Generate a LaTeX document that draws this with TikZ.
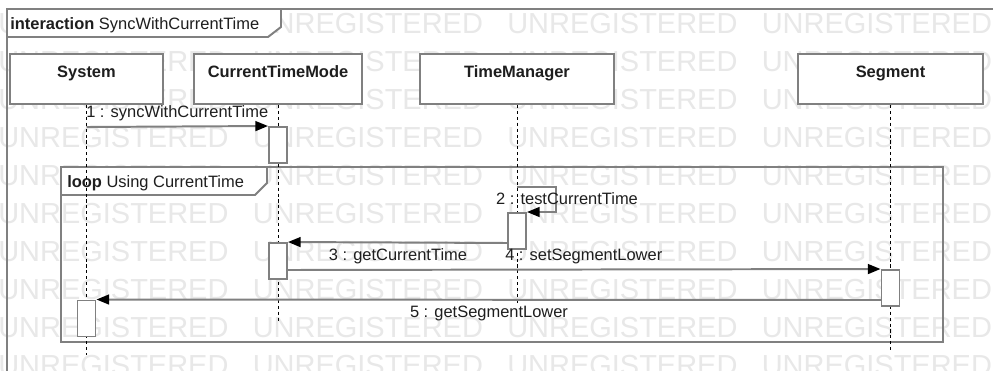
\documentclass[tikz,border=0pt]{standalone}
\usepackage{fontspec}
\setmainfont{Liberation Sans}
\usepackage{xcolor}
\usepackage{tikz}
\usetikzlibrary{
	arrows.meta,
	positioning,
}
\definecolor{umlline}{RGB}{128,128,128}
\definecolor{umltext}{RGB}{30,30,30}
\definecolor{watermark}{RGB}{232,232,232}

\tikzset{
	lifehead/.style={draw=umlline, line width=1.4pt, fill=white, inner sep=0pt, minimum height=1.25cm,
		text height=0.3cm, text depth=0.4cm, text=umltext, font=\fontsize{11.7}{14}\selectfont\bfseries},
	lifeline/.style={draw=black, line width=0.7pt, dash pattern=on 2.2pt off 2pt},
	activation/.style={draw=umlline, line width=1.4pt, fill=white, inner sep=0pt, minimum width=0.45cm, minimum height=0.9cm},
	msg/.style={draw=umlline, line width=1.4pt, -{Triangle[length=9pt, width=7pt, color=black]}},
	msglabel/.style={text=umltext, inner sep=3.5pt, font=\fontsize{11.7}{14}\selectfont},
	framebox/.style={draw=umlline, line width=1.4pt},
	framelabel/.style={anchor=base west, inner sep=0pt, text=umltext, font=\fontsize{11.7}{14}\selectfont},
	watermarktext/.style={anchor=west, inner sep=0pt, text=watermark, font=\fontsize{20.6}{24}\selectfont},
}

\begin{document}
\begin{tikzpicture}[x=0.025cm, y=-0.025cm]
\useasboundingbox (0,0) rectangle (993,370);
\clip (0,0) rectangle (993,370);
\fill[white] (0,0) rectangle (993,370);

% watermark
\foreach \row in {0,...,9}
	\foreach \col in {0,...,3}
		\node[watermarktext] at (-2+254.5*\col, 24+38*\row) {UNREGISTERED};

% interaction frame
\draw[framebox] (7,9) rectangle (1010,390);
\draw[framebox, fill=white] (7,9) -- (281,9) -- (281,27) -- (268,37) -- (7,37) -- cycle;
\node[framelabel] (interactionlabel) at (10,29) {\textbf{interaction} SyncWithCurrentTime};

% loop fragment
\draw[framebox] (61,167) rectangle (943,342);
\draw[framebox, fill=white] (61,167) -- (267,167) -- (267,183) -- (255,195) -- (61,195) -- cycle;
\node[framelabel] (looplabel) at (67,187) {\textbf{loop} Using CurrentTime};

% lifeline heads
\node[lifehead, minimum width=3.825cm] (system) at (86.5,79) {System};
\node[lifehead, minimum width=4.2cm] (ctmode) at (278,79) {CurrentTimeMode};
\node[lifehead, minimum width=4.85cm] (timemgr) at (517,79) {TimeManager};
\node[lifehead, minimum width=4.625cm] (segment) at (890.5,79) {Segment};

% lifelines
\coordinate (systemend) at (86.5,355);
\coordinate (ctmodeend) at (278,323);
\coordinate (timemgrend) at (517,303);
\coordinate (segmentend) at (890.5,353);
\draw[lifeline] (system.south) -- (systemend);
\draw[lifeline] (ctmode.south) -- (ctmodeend);
\draw[lifeline] (timemgr.south) -- (timemgrend);
\draw[lifeline] (segment.south) -- (segmentend);

% activations
\node[activation] (ctmodeact1) at (278,145) {};
\node[activation] (timemgract) at (517,231) {};
\node[activation] (ctmodeact2) at (278,261) {};
\node[activation] (segmentact) at (890.5,288) {};
\node[activation] (systemact) at (86.5,318.5) {};

% messages
\coordinate (msg1start) at (86.5,127);
\draw[msg] (msg1start) -- (ctmodeact1.north west) node[midway, above, msglabel] {1 : syncWithCurrentTime};

\coordinate (msg2start) at (517,187);
\draw[msg] (msg2start) -- (556,187) |- (timemgract.north east);
\node[msglabel, anchor=base] (msg2label) at (567,204) {2 : testCurrentTime};

\coordinate (msg3start) at (508,243);
\draw[msg] (msg3start) -- (ctmodeact2.north east) node[midway, below, msglabel] {3 : getCurrentTime};

\coordinate (msg4start) at (287,270);
\draw[msg] (msg4start) -- (segmentact.north west) node[midway, above, msglabel] {4 : setSegmentLower};

\coordinate (msg5start) at (881.5,300);
\draw[msg] (msg5start) -- (systemact.north east) node[midway, below, msglabel] {5 : getSegmentLower};
\end{tikzpicture}
\end{document}
